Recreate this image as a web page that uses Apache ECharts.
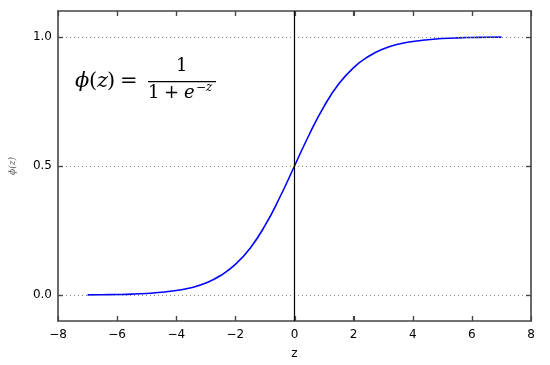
<!DOCTYPE html>
<html>
<head>
<meta charset="utf-8">
<script src="https://cdn.jsdelivr.net/npm/echarts@6/dist/echarts.min.js"></script>
<style>
  html, body { margin: 0; padding: 0; background: #fff; }
  #chart { width: 550px; height: 365px; }
</style>
</head>
<body>
<div id="chart"></div>
<script>
// values
var zValues = [-7, -6.5, -6, -5.5, -5, -4.5, -4, -3.5, -3, -2.5, -2, -1.5, -1, -0.5,
               0, 0.5, 1, 1.5, 2, 2.5, 3, 3.5, 4, 4.5, 5, 5.5, 6, 6.5, 7];
var phiValues = [0.001, 0.0015, 0.0025, 0.004, 0.0067, 0.011, 0.018, 0.029, 0.047, 0.076, 0.119, 0.182, 0.269, 0.378,
                 0.5, 0.622, 0.731, 0.818, 0.881, 0.924, 0.953, 0.971, 0.982, 0.989, 0.9933, 0.996, 0.9975, 0.9985, 0.999];
var xTicks = [-6, -4, -2, 0, 2, 4, 6];
var yTicks = [0, 0.5, 1.0];

var points = [];
for (var i = 0; i < zValues.length; i++) {
  points.push([zValues[i], phiValues[i]]);
}

var frame = '#444';

// fresh objects per axis
function frameLine() {
  return { show: true, onZero: false, lineStyle: { color: frame, width: 1.6 } };
}
function ticks(custom) {
  var t = { show: true, inside: true, length: 5, lineStyle: { color: frame, width: 1.2 } };
  if (custom) t.customValues = custom;
  return t;
}
var dotted = { color: '#888', type: [1, 3], width: 1 };

var myChart = echarts.init(document.getElementById('chart'));
var option = {
  animation: false,
  grid: { left: 53, right: 19, top: 11, bottom: 43 },
  xAxis: [{
    type: 'value', min: -8, max: 8, interval: 2,
    name: 'z', nameLocation: 'middle', nameGap: 27,
    nameTextStyle: { color: '#000', fontSize: 12, fontFamily: 'DejaVu Sans' },
    axisLine: frameLine(),
    axisTick: ticks(),
    axisLabel: { margin: 8, color: '#000', fontSize: 12, fontFamily: 'DejaVu Sans',
      formatter: function(v){ return v < 0 ? '\u2212' + (-v) : v; } },
    splitLine: { show: false }
  }, {
    type: 'value', min: -8, max: 8, interval: 2, position: 'top',
    axisLine: frameLine(),
    axisTick: ticks(),
    axisLabel: { show: false },
    splitLine: { show: false }
  }],
  yAxis: [{
    type: 'value', min: -0.1, max: 1.1,
    name: '\u03d5(z)', nameLocation: 'middle', nameGap: 41,
    nameTextStyle: { color: '#555', fontSize: 9, fontFamily: 'DejaVu Serif', fontStyle: 'italic' },
    axisLine: frameLine(),
    axisTick: ticks(yTicks),
    axisLabel: { margin: 6, customValues: yTicks, color: '#000', fontSize: 12, fontFamily: 'DejaVu Sans',
      formatter: function(v){ return v.toFixed(1); } },
    splitLine: { show: false }
  }, {
    type: 'value', min: -0.1, max: 1.1, position: 'right',
    axisLine: frameLine(),
    axisTick: ticks(yTicks),
    axisLabel: { show: false },
    splitLine: { show: false }
  }],
  series: [{
    type: 'line',
    data: points,
    smooth: true,
    showSymbol: false,
    z: 3,
    lineStyle: { color: '#0000ff', width: 1.6 },
    markLine: {
      silent: true, symbol: 'none', label: { show: false },
      data: [
        { yAxis: yTicks[0], lineStyle: dotted },
        { yAxis: yTicks[1], lineStyle: dotted },
        { yAxis: yTicks[2], lineStyle: dotted },
        { xAxis: 0, lineStyle: { color: '#000', type: 'solid', width: 1.2 } }
      ]
    }
  }],
  graphic: [
    { type: 'text', left: 75, top: 71,
      style: { text: '\u03d5', font: 'italic 21px "DejaVu Serif"', fill: '#000' } },
    { type: 'text', left: 89, top: 71,
      style: { text: '(', font: '21px "DejaVu Serif"', fill: '#000' } },
    { type: 'text', left: 97, top: 71,
      style: { text: 'z', font: 'italic 21px "DejaVu Serif"', fill: '#000' } },
    { type: 'text', left: 107, top: 71,
      style: { text: ')', font: '21px "DejaVu Serif"', fill: '#000' } },
    { type: 'text', left: 120, top: 71,
      style: { text: '=', font: '21px "DejaVu Serif"', fill: '#000' } },
    { type: 'text', left: 176, top: 57,
      style: { text: '1', font: '18px "DejaVu Serif"', fill: '#000' } },
    { type: 'rect', shape: { x: 148, y: 81, width: 68, height: 1.3 }, style: { fill: '#000' } },
    { type: 'text', left: 148, top: 84,
      style: { text: '1', font: '18px "DejaVu Serif"', fill: '#000' } },
    { type: 'text', left: 164, top: 84,
      style: { text: '+', font: '18px "DejaVu Serif"', fill: '#000' } },
    { type: 'text', left: 184, top: 84,
      style: { text: 'e', font: 'italic 18px "DejaVu Serif"', fill: '#000' } },
    { type: 'text', left: 196, top: 82,
      style: { text: '\u2212z', font: 'italic 12px "DejaVu Serif"', fill: '#000' } }
  ]
};
myChart.setOption(option);

// inward tick marks on all four sides, placed through the axis scales
var gLeft = myChart.convertToPixel({ xAxisIndex: 0 }, -8),
    gRight = myChart.convertToPixel({ xAxisIndex: 0 }, 8),
    gBottom = myChart.convertToPixel({ yAxisIndex: 0 }, -0.1),
    gTop = myChart.convertToPixel({ yAxisIndex: 0 }, 1.1),
    tickLen = 5,
    tickLine = { stroke: frame, lineWidth: 1.2 };

xTicks.forEach(function(v){
  var px = Math.round(myChart.convertToPixel({ xAxisIndex: 0 }, v)) + 0.5;
  option.graphic.push({ type: 'line', z: 10, shape: { x1: px, y1: gBottom, x2: px, y2: gBottom - tickLen }, style: tickLine });
  option.graphic.push({ type: 'line', z: 10, shape: { x1: px, y1: gTop, x2: px, y2: gTop + tickLen }, style: tickLine });
});
yTicks.forEach(function(v){
  var py = Math.round(myChart.convertToPixel({ yAxisIndex: 0 }, v)) + 0.5;
  option.graphic.push({ type: 'line', z: 10, shape: { x1: gLeft, y1: py, x2: gLeft + tickLen, y2: py }, style: tickLine });
  option.graphic.push({ type: 'line', z: 10, shape: { x1: gRight, y1: py, x2: gRight - tickLen, y2: py }, style: tickLine });
});

myChart.setOption({ graphic: option.graphic });
</script>
</body>
</html>
